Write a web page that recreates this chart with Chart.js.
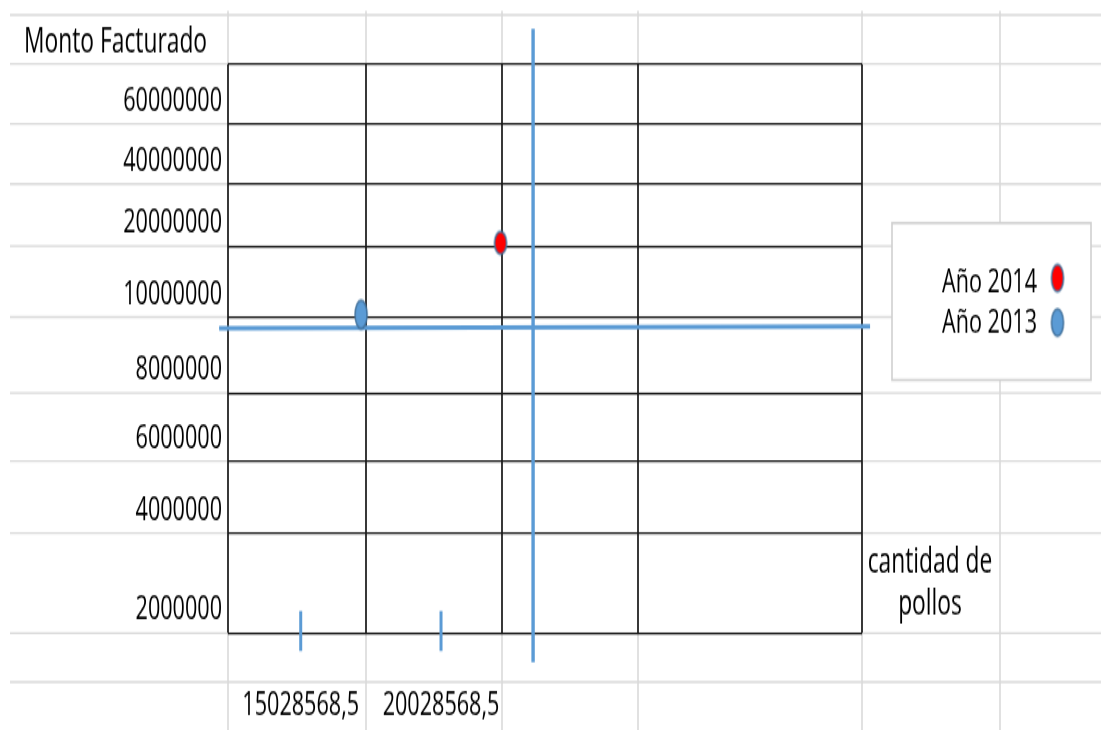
<!DOCTYPE html>
<html>
<head>
<meta charset="utf-8">
<script src="https://cdn.jsdelivr.net/npm/chart.js@4"></script>
<style>
  html, body { margin: 0; padding: 0; background: #fff; }
</style>
</head>
<body>
<!-- the sheet text is tall and narrow, so the canvas is drawn short and stretched back up -->
<canvas id="chart" width="1101" height="487" style="display:block;width:1101px;height:730px"></canvas>
<script>
// values
const seriesNames = ['Año 2014', 'Año 2013'];
const pollos = [22150000, 17180000];   // cantidad de pollos
const monto = [21000000, 10350000];    // monto facturado

// the two blue lines drawn over the sheet
const hLineX = [12120000, 35320000];
const hLineY = [9700000, 9750000];
const vLineX = [23310000, 23310000];
const vLineY = [91700000, 1420000];

const xTicks = [15028568.5, 20028568.5];
const xTickLabels = ['15028568,5', '20028568,5'];
const xMin = 12437000;
const xMax = 35032000;

const yTicks = [2000000, 4000000, 6000000, 8000000, 10000000, 20000000, 40000000, 60000000];
const yTickLabels = ['2000000', '4000000', '6000000', '8000000', '10000000', '20000000', '40000000', '60000000'];
const yTop = 80000000;

const yTitle = 'Monto Facturado';
const xTitle = ['cantidad de', 'pollos'];

// sheet layout in pixels of the 1101x730 picture
const rowHeights = [100, 72, 68, 76, 71, 62, 60, 60]; // bottom-up, one per step of the y levels
const sheetCols = [228, 366, 502, 638, 862, 1000];
const extraRows = [15, 682];
const legendBox = { x: 892, y: 223, w: 199, h: 157 };
const SY = 487 / 730;
const FONT = '"Open Sans"';
const FSIZE = 21.6;
const TSIZE = 22.8;

const yLevels = [...yTicks, yTop];
const rowEdges = [0];
rowHeights.forEach(h => rowEdges.push(rowEdges[rowEdges.length - 1] + h));
const rowTotal = rowEdges[rowEdges.length - 1];

// y axis where every sheet row is one step, whatever its height
class RowScale extends Chart.LinearScale {
    static id = 'rows';
    static defaults = {};
    buildTicks() {
        return yLevels.map(v => ({ value: v }));
    }
    getPixelForValue(value) {
        let i = 0;
        while (i < yLevels.length - 2 && value > yLevels[i + 1]) i++;
        const f = (value - yLevels[i]) / (yLevels[i + 1] - yLevels[i]);
        const h = rowEdges[i] + f * (rowEdges[i + 1] - rowEdges[i]);
        return this.getPixelForDecimal(h / rowTotal);
    }
    getValueForPixel(pixel) {
        const h = this.getDecimalForPixel(pixel) * rowTotal;
        let i = 0;
        while (i < rowEdges.length - 2 && h > rowEdges[i + 1]) i++;
        return yLevels[i] + (h - rowEdges[i]) / (rowEdges[i + 1] - rowEdges[i]) * (yLevels[i + 1] - yLevels[i]);
    }
}
Chart.register(RowScale);

function makeDot(fill, w, h) {
    const c = document.createElement('canvas');
    c.width = w + 4;
    c.height = h + 4;
    const g = c.getContext('2d');
    g.beginPath();
    g.ellipse(c.width / 2, c.height / 2, w / 2, h / 2, 0, 0, Math.PI * 2);
    g.fillStyle = fill;
    g.fill();
    g.lineWidth = 1.5;
    g.strokeStyle = '#41719c';
    g.stroke();
    return c;
}
const seriesFill = ['#ff0000', '#5b9bd5'];
const plotDots = [makeDot(seriesFill[0], 12, 15), makeDot(seriesFill[1], 12, 19)];
const legendDots = [makeDot(seriesFill[0], 12, 18), makeDot(seriesFill[1], 12, 18)];

function line(ctx, x1, y1, x2, y2) {
    ctx.beginPath();
    ctx.moveTo(x1, y1);
    ctx.lineTo(x2, y2);
    ctx.stroke();
}

const sheetPlugin = {
    id: 'sheet',
    beforeDraw(chart) {
        const { ctx, width, height } = chart;
        const ys = chart.scales.y;
        ctx.save();
        ctx.fillStyle = '#fff';
        ctx.fillRect(0, 0, width, height);
        // light spreadsheet grid
        ctx.strokeStyle = '#dadada';
        ctx.lineWidth = 1.3;
        const rows = yLevels.map(v => ys.getPixelForValue(v)).concat(extraRows.map(r => r * SY));
        rows.forEach(y => line(ctx, 10, y, width, y));
        ctx.lineWidth = 1.6;
        sheetCols.forEach(x => line(ctx, x, 11 * SY, x, height));
        ctx.restore();
    },
    beforeDatasetsDraw(chart) {
        // black borders of the table cells
        const { ctx, chartArea: a } = chart;
        ctx.save();
        ctx.strokeStyle = '#1a1a1a';
        ctx.lineWidth = 1.7;
        sheetCols.filter(x => x >= a.left && x <= a.right).forEach(x => line(ctx, x, a.top, x, a.bottom));
        ctx.restore();
    },
    afterDatasetsDraw(chart) {
        // blue marks on the two x values
        const { ctx, chartArea: a } = chart;
        const xs = chart.scales.x;
        ctx.save();
        ctx.strokeStyle = '#5b9bd5';
        ctx.lineWidth = 3;
        xs.ticks.forEach(t => {
            const x = xs.getPixelForValue(t.value);
            line(ctx, x, a.bottom - 22 * SY, x, a.bottom + 18 * SY);
        });
        ctx.restore();
    },
    afterDraw(chart) {
        const { ctx } = chart;
        ctx.save();
        ctx.fillStyle = '#000';
        ctx.font = TSIZE + 'px ' + FONT;
        ctx.textBaseline = 'alphabetic';
        ctx.textAlign = 'left';
        ctx.fillText(yTitle, 24, 53 * SY);
        ctx.textAlign = 'center';
        ctx.fillText(xTitle[0], 930, 572 * SY);
        ctx.fillText(xTitle[1], 930, 615 * SY);

        // legend
        ctx.fillStyle = '#fff';
        ctx.fillRect(legendBox.x, legendBox.y * SY, legendBox.w, legendBox.h * SY);
        ctx.strokeStyle = '#d0d0d0';
        ctx.lineWidth = 1.6;
        ctx.strokeRect(legendBox.x, legendBox.y * SY, legendBox.w, legendBox.h * SY);
        ctx.fillStyle = '#000';
        ctx.font = FSIZE + 'px ' + FONT;
        ctx.textAlign = 'right';
        seriesNames.forEach((name, i) => {
            const base = (292 + i * 41.5) * SY;
            ctx.fillText(name, 1037, base);
            const d = legendDots[i];
            ctx.drawImage(d, 1057.5 - d.width / 2, (278 + i * 44.5) * SY - d.height / 2);
        });
        ctx.restore();
    }
};

Chart.defaults.font.family = FONT;
Chart.defaults.font.size = FSIZE;
Chart.defaults.color = '#000';

const chart = new Chart(document.getElementById('chart'), {
    type: 'scatter',
    data: {
        datasets: [
            {
                label: seriesNames[0],
                data: [{ x: pollos[0], y: monto[0] }],
                pointStyle: plotDots[0],
                pointRadius: 8,
            },
            {
                label: seriesNames[1],
                data: [{ x: pollos[1], y: monto[1] }],
                pointStyle: plotDots[1],
                pointRadius: 8,
            },
            {
                label: 'horizontal',
                data: hLineX.map((x, i) => ({ x: x, y: hLineY[i] })),
                showLine: true,
                borderColor: '#5b9bd5',
                borderWidth: 3,
                pointRadius: 0,
                clip: false,
            },
            {
                label: 'vertical',
                data: vLineX.map((x, i) => ({ x: x, y: vLineY[i] })),
                showLine: true,
                borderColor: '#5b9bd5',
                borderWidth: 3.4,
                pointRadius: 0,
                clip: false,
            },
        ],
    },
    options: {
        responsive: false,
        animation: false,
        devicePixelRatio: 1,
        layout: { padding: { top: 64 * SY, right: 1101 - 862, left: 0, bottom: 0 } },
        plugins: {
            legend: { display: false },
            tooltip: { enabled: false },
        },
        scales: {
            x: {
                type: 'linear',
                min: xMin,
                max: xMax,
                afterBuildTicks: (s) => { s.ticks = xTicks.map(v => ({ value: v })); },
                afterFit: (s) => { s.height = (730 - 633) * SY; },
                grid: { display: false, drawTicks: false },
                border: { display: false },
                ticks: {
                    callback: (v, i) => xTickLabels[i],
                    padding: 36,
                    autoSkip: false,
                    maxRotation: 0,
                },
            },
            y: {
                type: 'rows',
                min: yTicks[0],
                max: yTop,
                afterFit: (s) => { s.width = 228; },
                grid: { color: '#1a1a1a', lineWidth: 1.2, drawTicks: false },
                border: { display: false },
                ticks: {
                    callback: (v, i) => yTickLabels[i] || '',
                    padding: 6,
                    labelOffset: -15,
                    autoSkip: false,
                },
            },
        },
    },
    plugins: [sheetPlugin],
});
</script>
</body>
</html>
